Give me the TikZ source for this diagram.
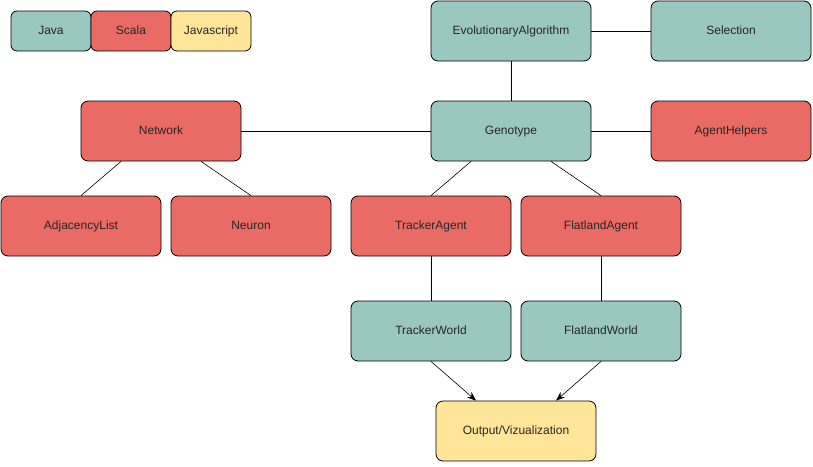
\documentclass[tikz,border=0pt]{standalone}
\usepackage{fontspec}
\setmainfont{Liberation Sans}
\usetikzlibrary{arrows.meta}
\definecolor{javac}{HTML}{9AC7BF}
\definecolor{scalac}{HTML}{EA6B66}
\definecolor{jsc}{HTML}{FFE599}
\begin{document}
\begin{tikzpicture}[x=1pt,y=-1pt,
  box/.style={draw=black,line width=0.8pt,rounded corners=7pt,minimum width=160pt,minimum height=60pt,inner sep=0pt,text height=8.6pt,text depth=2.4pt,font=\fontsize{12}{14}\selectfont,text=black!85},
  leg/.style={box,minimum width=80pt,minimum height=40pt,rounded corners=6pt},
  jbox/.style={fill=javac},
  sbox/.style={fill=scalac},
  ybox/.style={fill=jsc},
  conn/.style={draw=black,line width=0.6pt},
  arr/.style={conn,-{Stealth[length=9pt,width=7pt]}}]
\useasboundingbox (0,0) rectangle (813,466);
\node[leg,jbox] (java) at (51,31) {Java};
\node[leg,sbox] (scala) at (131,31) {Scala};
\node[leg,ybox] (js) at (211,31) {Javascript};
\node[box,jbox] (ea) at (511,31) {EvolutionaryAlgorithm};
\node[box,jbox] (sel) at (731,31) {Selection};
\node[box,sbox] (net) at (161,131) {Network};
\node[box,jbox] (geno) at (511,131) {Genotype};
\node[box,sbox] (ah) at (731,131) {AgentHelpers};
\node[box,sbox] (adj) at (81,226) {AdjacencyList};
\node[box,sbox] (neu) at (251,226) {Neuron};
\node[box,sbox] (ta) at (431,226) {TrackerAgent};
\node[box,sbox] (fa) at (601,226) {FlatlandAgent};
\node[box,jbox] (tw) at (431,331) {TrackerWorld};
\node[box,jbox] (fw) at (601,331) {FlatlandWorld};
\node[box,ybox] (out) at (516,431) {Output/Vizualization};
\draw[conn] (ea.east) -- (sel.west);
\draw[conn] (ea.south) -- (geno.north);
\draw[conn] (net.east) -- (geno.west);
\draw[conn] (geno.east) -- (ah.west);
\draw[conn] ([xshift=-40pt]net.south) -- (adj.north);
\draw[conn] ([xshift=40pt]net.south) -- (neu.north);
\draw[conn] ([xshift=-40pt]geno.south) -- (ta.north);
\draw[conn] ([xshift=40pt]geno.south) -- (fa.north);
\draw[conn] (ta.south) -- (tw.north);
\draw[conn] (fa.south) -- (fw.north);
\draw[arr] (tw.south) -- ([xshift=-40pt]out.north);
\draw[arr] (fw.south) -- ([xshift=40pt]out.north);
\end{tikzpicture}
\end{document}
